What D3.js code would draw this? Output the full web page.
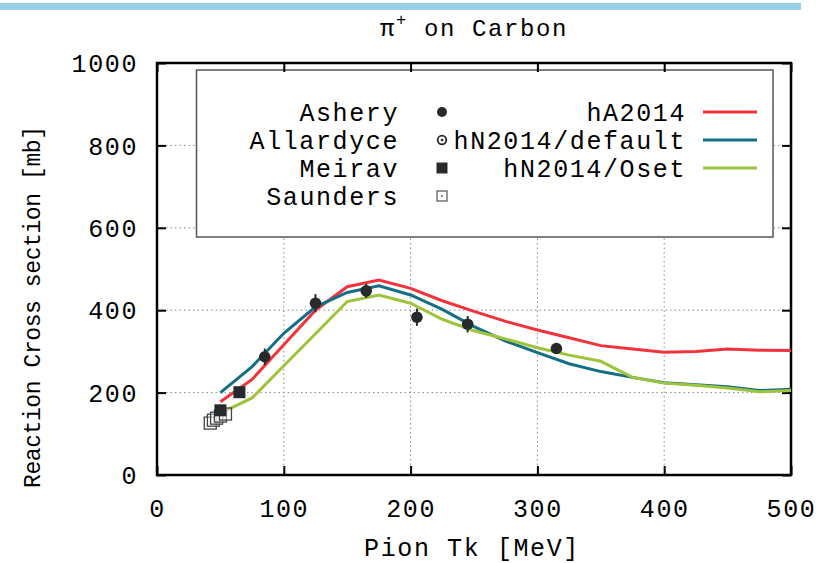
<!DOCTYPE html>
<html>
<head>
<meta charset="utf-8">
<script src="https://cdn.jsdelivr.net/npm/d3@7"></script>
<style>
  body { margin: 0; background: #fff; }
  svg text { font-family: "Courier New", "Nimbus Mono PS", "FreeMono", "Liberation Mono", monospace; fill: #000; }
</style>
</head>
<body>
<svg id="chart" width="837" height="563"></svg>
<script>
// energies (MeV) shared by the three model curves
var modelTk = [50, 75, 100, 125, 150, 175, 200, 225, 250, 275, 300, 325, 350, 375, 400, 425, 450, 475, 500];
var hA2014 = [178, 232, 316, 400, 457, 473, 453, 423, 397, 373, 352, 333, 314, 306, 298, 300, 306, 303, 302];
var hNdefault = [200, 263, 344, 408, 443, 459, 437, 402, 360, 325, 297, 270, 251, 237, 224, 219, 214, 205, 208];
var hNoset = [150, 187, 265, 343, 421, 437, 417, 378, 350, 330, 309, 291, 276, 237, 223, 218, 211, 202, 205];

// data points: [Tk, sigma, error]
var ashery = [[85, 287, 20], [125, 417, 22], [165, 447, 17], [205, 383, 21], [245, 366, 20], [315, 307, 6]];
var allardyce = []; // all Allardyce energies lie above 500 MeV, off this plot
var meirav = [[50, 157, 8], [65, 201, 8]];
var saunders = [[42, 126, 4], [44.5, 133, 4], [47, 138, 4], [50, 143, 4], [54, 148, 4]];

var xTicks = [0, 100, 200, 300, 400, 500];
var yTicks = [0, 200, 400, 600, 800, 1000];

var svg = d3.select("#chart");

// plot area in pixels (window.top is reserved, so use plot* names)
var plotLeft = 157, plotRight = 791, plotTop = 63, plotBottom = 475;

var xScale = d3.scaleLinear().domain([0, 500]).range([plotLeft, plotRight]);
var yScale = d3.scaleLinear().domain([0, 1000]).range([plotBottom, plotTop]);

var dark = "#262a2d";

// light blue strip along the top of the page
svg.append("rect").attr("x", 0).attr("y", 3).attr("width", 801).attr("height", 7).attr("fill", "#97d1e8");

// title
var title = svg.append("text")
    .attr("x", (plotLeft + plotRight) / 2)
    .attr("y", 36)
    .attr("text-anchor", "middle")
    .style("font-size", "24px")
    .style("letter-spacing", "1.6px");
title.append("tspan").text("\u03c0");
title.append("tspan").attr("dy", -11).style("font-size", "17px").text("+");
title.append("tspan").attr("dy", 11).text(" on Carbon");

// grid
var grid = svg.append("g").attr("class", "grid");
grid.selectAll(".gx").data(xTicks.slice(1, -1)).enter().append("line")
    .attr("x1", d => xScale(d)).attr("x2", d => xScale(d))
    .attr("y1", plotTop).attr("y2", plotBottom);
grid.selectAll(".gy").data(yTicks.slice(1, -1)).enter().append("line")
    .attr("y1", d => yScale(d)).attr("y2", d => yScale(d))
    .attr("x1", plotLeft).attr("x2", plotRight);
grid.selectAll("line")
    .attr("stroke", "#888")
    .attr("stroke-width", 1)
    .attr("stroke-dasharray", "1.5,3");

// legend box sits over the grid
var legendBox = { x: 196.5, y: 70, w: 576.5, h: 167 };
svg.append("rect")
    .attr("x", legendBox.x).attr("y", legendBox.y)
    .attr("width", legendBox.w).attr("height", legendBox.h)
    .attr("fill", "#fff").attr("stroke", "#555").attr("stroke-width", 1.5);

// axes with inward ticks, mirrored on top and right
var xAxis = svg.append("g").attr("transform", "translate(0," + plotBottom + ")")
    .call(d3.axisBottom(xScale).tickValues(xTicks).tickSize(-9).tickPadding(24));
var xAxisTop = svg.append("g").attr("transform", "translate(0," + plotTop + ")")
    .call(d3.axisTop(xScale).tickValues(xTicks).tickSize(-9).tickFormat(""));
var yAxis = svg.append("g").attr("transform", "translate(" + plotLeft + ",0)")
    .call(d3.axisLeft(yScale).tickValues(yTicks).tickFormat(d3.format("d")).tickSize(-9).tickPadding(19));
var yAxisRight = svg.append("g").attr("transform", "translate(" + plotRight + ",0)")
    .call(d3.axisRight(yScale).tickValues(yTicks).tickSize(-9).tickFormat(""));

[xAxis, xAxisTop, yAxis, yAxisRight].forEach(function(a) {
    a.select(".domain").remove();
    a.selectAll(".tick line").attr("stroke", "#000").attr("stroke-width", 2);
    a.selectAll("text").attr("font-family", null).attr("font-size", null)
        .style("font-size", "25px").style("letter-spacing", "1.6px").attr("fill", "#000");
});
yAxis.selectAll("text").attr("dy", "0.35em");

// frame
svg.append("rect")
    .attr("x", plotLeft).attr("y", plotTop)
    .attr("width", plotRight - plotLeft).attr("height", plotBottom - plotTop)
    .attr("fill", "none").attr("stroke", "#000").attr("stroke-width", 2.5);

// axis titles
svg.append("text")
    .attr("x", (plotLeft + plotRight) / 2 - 2).attr("y", 556)
    .attr("text-anchor", "middle")
    .style("font-size", "25px").style("letter-spacing", "1.6px")
    .text("Pion Tk [MeV]");

svg.append("text")
    .attr("transform", "translate(40," + ((plotTop + plotBottom) / 2 + 38) + ") rotate(-90)")
    .attr("text-anchor", "middle")
    .attr("textLength", 362)
    .attr("lengthAdjust", "spacing")
    .style("font-size", "23px")
    .text("Reaction Cross section [mb]");

// model curves
var line = d3.line()
    .x(d => xScale(d[0]))
    .y(d => yScale(d[1]));

var curves = [
    { name: "hA2014", values: hA2014, color: "#f3333c" },
    { name: "hN2014/default", values: hNdefault, color: "#146e86" },
    { name: "hN2014/Oset", values: hNoset, color: "#9dc43b" }
];

svg.append("g").selectAll("path").data(curves).enter().append("path")
    .attr("d", c => line(modelTk.map((t, i) => [t, c.values[i]])))
    .attr("fill", "none")
    .attr("stroke", c => c.color)
    .attr("stroke-width", 3);

// error bars
var points = svg.append("g");
function errorBars(data) {
    points.append("g").selectAll("line").data(data).enter().append("line")
        .attr("x1", d => xScale(d[0])).attr("x2", d => xScale(d[0]))
        .attr("y1", d => yScale(d[1] - d[2])).attr("y2", d => yScale(d[1] + d[2]))
        .attr("stroke", dark).attr("stroke-width", 2);
}
errorBars(ashery);
errorBars(meirav);

points.append("g").selectAll("rect").data(saunders).enter().append("rect")
    .attr("x", d => xScale(d[0]) - 6).attr("y", d => yScale(d[1]) - 6)
    .attr("width", 12).attr("height", 12)
    .attr("fill", "#fff").attr("fill-opacity", 0.4)
    .attr("stroke", "#444").attr("stroke-width", 1.3);

points.append("g").selectAll("rect").data(meirav).enter().append("rect")
    .attr("x", d => xScale(d[0]) - 6).attr("y", d => yScale(d[1]) - 6)
    .attr("width", 12).attr("height", 12)
    .attr("fill", dark);

points.append("g").selectAll("circle").data(ashery).enter().append("circle")
    .attr("cx", d => xScale(d[0])).attr("cy", d => yScale(d[1]))
    .attr("r", 5.8).attr("fill", dark);

points.append("g").selectAll("circle").data(allardyce).enter().append("circle")
    .attr("cx", d => xScale(d[0])).attr("cy", d => yScale(d[1]))
    .attr("r", 4.5).attr("fill", "none").attr("stroke", dark).attr("stroke-width", 2);

// legend
var dataSets = ["Ashery", "Allardyce", "Meirav", "Saunders"];
var rowY = [112, 140, 168, 196];
var legend = svg.append("g");

legend.selectAll(".dlabel").data(dataSets).enter().append("text")
    .attr("x", 399).attr("y", (d, i) => rowY[i])
    .attr("dy", "0.35em").attr("text-anchor", "end")
    .style("font-size", "25px").style("letter-spacing", "1.6px")
    .text(d => d);

var mx = 442;
legend.append("circle").attr("cx", mx).attr("cy", rowY[0]).attr("r", 5).attr("fill", dark);
legend.append("circle").attr("cx", mx).attr("cy", rowY[1]).attr("r", 4.3)
    .attr("fill", "none").attr("stroke", dark).attr("stroke-width", 1.8);
legend.append("circle").attr("cx", mx).attr("cy", rowY[1]).attr("r", 1.3).attr("fill", dark);
legend.append("rect").attr("x", mx - 5.5).attr("y", rowY[2] - 5.5).attr("width", 11).attr("height", 11).attr("fill", dark);
legend.append("rect").attr("x", mx - 5).attr("y", rowY[3] - 5).attr("width", 10).attr("height", 10)
    .attr("fill", "none").attr("stroke", "#555").attr("stroke-width", 1.2);
legend.append("circle").attr("cx", mx).attr("cy", rowY[3]).attr("r", 0.9).attr("fill", "#555");

legend.selectAll(".mlabel").data(curves).enter().append("text")
    .attr("x", 686).attr("y", (d, i) => rowY[i])
    .attr("dy", "0.35em").attr("text-anchor", "end")
    .style("font-size", "25px").style("letter-spacing", "1.6px")
    .text(d => d.name);

legend.selectAll(".mline").data(curves).enter().append("line")
    .attr("x1", 703).attr("x2", 757)
    .attr("y1", (d, i) => rowY[i]).attr("y2", (d, i) => rowY[i])
    .attr("stroke", d => d.color).attr("stroke-width", 3);
</script>
</body>
</html>
